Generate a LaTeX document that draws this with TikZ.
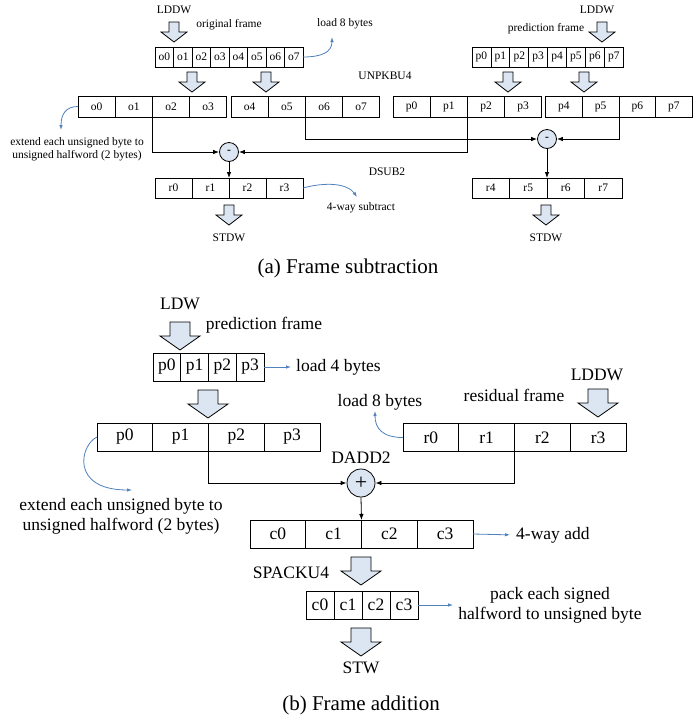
\documentclass[tikz,border=0pt]{standalone}
\usepackage{fontspec}
\setmainfont{Liberation Serif}
\usetikzlibrary{arrows.meta}
\definecolor{fatfill}{HTML}{DCE6F2}
\definecolor{noteblue}{HTML}{4F81BD}
\newcommand\fsA{\fontsize{11.5}{13}\selectfont}
\newcommand\fsB{\fontsize{17.5}{20}\selectfont}
\newcommand\fsC{\fontsize{21}{24}\selectfont}
% block arrows pointing down: small (part a) and large (part b)
\newcommand\fatA[2]{\draw[fat] ({#1-5},#2) -- ({#1+5},#2) -- ({#1+5},{#2+10}) -- ({#1+13},{#2+10}) -- (#1,{#2+20}) -- ({#1-13},{#2+10}) -- ({#1-5},{#2+10}) -- cycle;}
\newcommand\fatB[2]{\draw[fat] ({#1-10},#2) -- ({#1+10},#2) -- ({#1+10},{#2+14}) -- ({#1+20},{#2+14}) -- (#1,{#2+28}) -- ({#1-20},{#2+14}) -- ({#1-10},{#2+14}) -- cycle;}
\tikzset{
  x=1pt, y=-1pt,
  fat/.style={draw, fill=fatfill, line width=0.8pt, line join=miter},
  cellA/.style={draw, line width=0.8pt, inner sep=0pt, outer sep=0pt, anchor=west, font=\fsA, minimum height=20pt},
  cellB/.style={draw, line width=0.8pt, inner sep=0pt, outer sep=0pt, anchor=west, font=\fsB, minimum height=28pt},
  opA/.style={draw, circle, fill=fatfill, line width=0.8pt, minimum size=19pt, inner sep=0pt, font=\fsA\bfseries},
  opB/.style={draw, circle, fill=fatfill, line width=0.8pt, minimum size=28pt, inner sep=0pt, font=\fontsize{22}{22}\selectfont},
  labA/.style={inner sep=0pt, font=\fsA},
  labB/.style={inner sep=0pt, font=\fsB},
  conn/.style={draw, line width=0.8pt, -{Latex[length=6pt,width=4.5pt]}},
  note/.style={draw=noteblue, line width=0.8pt, -{Latex[length=5pt,width=3.5pt]}},
}
\begin{document}
\begin{tikzpicture}
\useasboundingbox[fill=white] (0,0) rectangle (694,716);

%% ---------------- (a) Frame subtraction ----------------
\node[labA] (lddwA) at (174,10) {LDDW};
\fatA{174}{22}
\node[labA] (origA) at (229,25) {original frame};
\node[labA] (load8A) at (345,24) {load 8 bytes};
\foreach \i in {0,...,7}
  \node[cellA, minimum width=18.5pt] (so\i) at ({155+18.5*\i},57) {o\i};
\draw[note] (so7.east) .. controls (322,57) and (332,52) .. (332,37);

\node[labA] (lddwB) at (597,10) {LDDW};
\fatA{602}{22}
\node[labA] (predA) at (546,29) {prediction frame};
\foreach \i in {0,...,7}
  \node[cellA, minimum width=18.9pt] (sp\i) at ({472+18.9*\i},57) {p\i};

\fatA{192}{72}
\fatA{266}{72}
\fatA{508}{72}
\fatA{584}{72}
\node[labA] (unpk) at (385,76) {UNPKBU4};

\foreach \i in {0,...,3}
  \node[cellA, minimum width=37.2pt, minimum height=21pt] (bo\i) at ({78+37.2*\i},106.5) {o\i};
\foreach \i in {4,...,7}
  \node[cellA, minimum width=37.2pt, minimum height=21pt] (bo\i) at ({231+37.2*(\i-4)},106.5) {o\i};
\foreach \i in {0,...,3}
  \node[cellA, minimum width=37.2pt, minimum height=21pt] (bp\i) at ({393+37.2*\i},106.5) {p\i};
\foreach \i in {4,...,7}
  \node[cellA, minimum width=36.7pt, minimum height=21pt] (bp\i) at ({545.5+36.7*(\i-4)},106.5) {p\i};

\draw[note] (bo0.west) .. controls (66,106.5) and (61,114) .. (61,130);
\node[labA, align=center] (extA) at (77,149.5) {extend each unsigned byte to\\unsigned halfword (2 bytes)};

\node[opA] (sub1) at (229,152) {-};
\node[opA] (sub2) at (547,139) {-};
\draw[conn] (bo1.south east) |- (sub1.west);
\draw[conn] (bp1.south east) |- (sub1.east);
\draw[conn] (bo5.south east) |- (sub2.west);
\draw[conn] (bp5.south east) |- (sub2.east);

\foreach \i in {0,...,3}
  \node[cellA, minimum width=37pt] (r\i) at ({155+37*\i},188) {r\i};
\foreach \i in {4,...,7}
  \node[cellA, minimum width=37.5pt] (r\i) at ({472+37.5*(\i-4)},188) {r\i};
\draw[conn] (sub1.south) -- (r1.north east);
\draw[conn] (sub2.south) -- (r5.north east);

\node[labA] (dsub) at (387,172) {DSUB2};
\draw[note] (r3.east) .. controls (325,182) and (347,183) .. (357,197);
\node[labA] (way4A) at (361,208) {4-way subtract};

\fatA{229}{205}
\fatA{546}{205}
\node[labA] (stdw1) at (229,238) {STDW};
\node[labA] (stdw2) at (546,238) {STDW};

\node[inner sep=0pt, font=\fsC] (capA) at (348,268) {(a) Frame subtraction};

%% ---------------- (b) Frame addition ----------------
\node[labB] (ldw) at (180,304) {LDW};
\fatB{180}{322}
\node[labB] (predB) at (264,325) {prediction frame};
\foreach \i in {0,...,3}
  \node[cellB, minimum width=27.75pt] (pb\i) at ({153+27.75*\i},367) {p\i};
\node[labB, anchor=west] (load4) at (296,367) {load 4 bytes};
\draw[note, shorten >=5pt] (pb3.east) -- (load4.west);

\fatB{208}{390}
\foreach \i in {0,...,3}
  \node[cellB, minimum width=55.75pt] (Pb\i) at ({97+55.75*\i},437) {p\i};
\draw[note] (Pb0.west) .. controls (80,445) and (70,490) .. (132,490);
\node[labB, align=center] (extB) at (121,516) {extend each unsigned byte to\\unsigned halfword (2 bytes)};

\node[labB] (lddwC) at (597,375) {LDDW};
\fatB{598}{389}
\node[labB] (resid) at (514,395) {residual frame};
\node[labB] (load8B) at (380,402) {load 8 bytes};
\foreach \i in {0,...,3}
  \node[cellB, minimum width=55.75pt] (rb\i) at ({403+55.75*\i},437.5) {r\i};
\draw[note] (rb0.west) .. controls (382,437.5) and (375,428) .. (375,411);

\node[labB] (dadd) at (361,458) {DADD2};
\node[opB] (add) at (361,483) {+};
\draw[conn] (Pb1.south east) |- (add.west);
\draw[conn] (rb1.south east) |- (add.east);

\foreach \i in {0,...,3}
  \node[cellB, minimum width=55.75pt] (cb\i) at ({250+55.75*\i},534) {c\i};
\draw[conn] (add.south) -- (cb1.north east);
\node[labB, anchor=west] (way4B) at (516,535) {4-way add};
\draw[note, shorten >=6pt] (cb3.east) -- (way4B.west);

\node[labB] (spack) at (291,573) {SPACKU4};
\fatB{361}{557}
\foreach \i in {0,...,3}
  \node[cellB, minimum width=28pt] (ck\i) at ({306+28*\i},605) {c\i};
\node[labB, align=center] (packB) at (550,605.5) {pack each signed\\halfword to unsigned byte};
\draw[note] (ck3.east) -- (453,605);

\fatB{361}{628}
\node[labB] (stw) at (361,668) {STW};

\node[inner sep=0pt, font=\fsC] (capB) at (361,705) {(b) Frame addition};
\end{tikzpicture}
\end{document}
